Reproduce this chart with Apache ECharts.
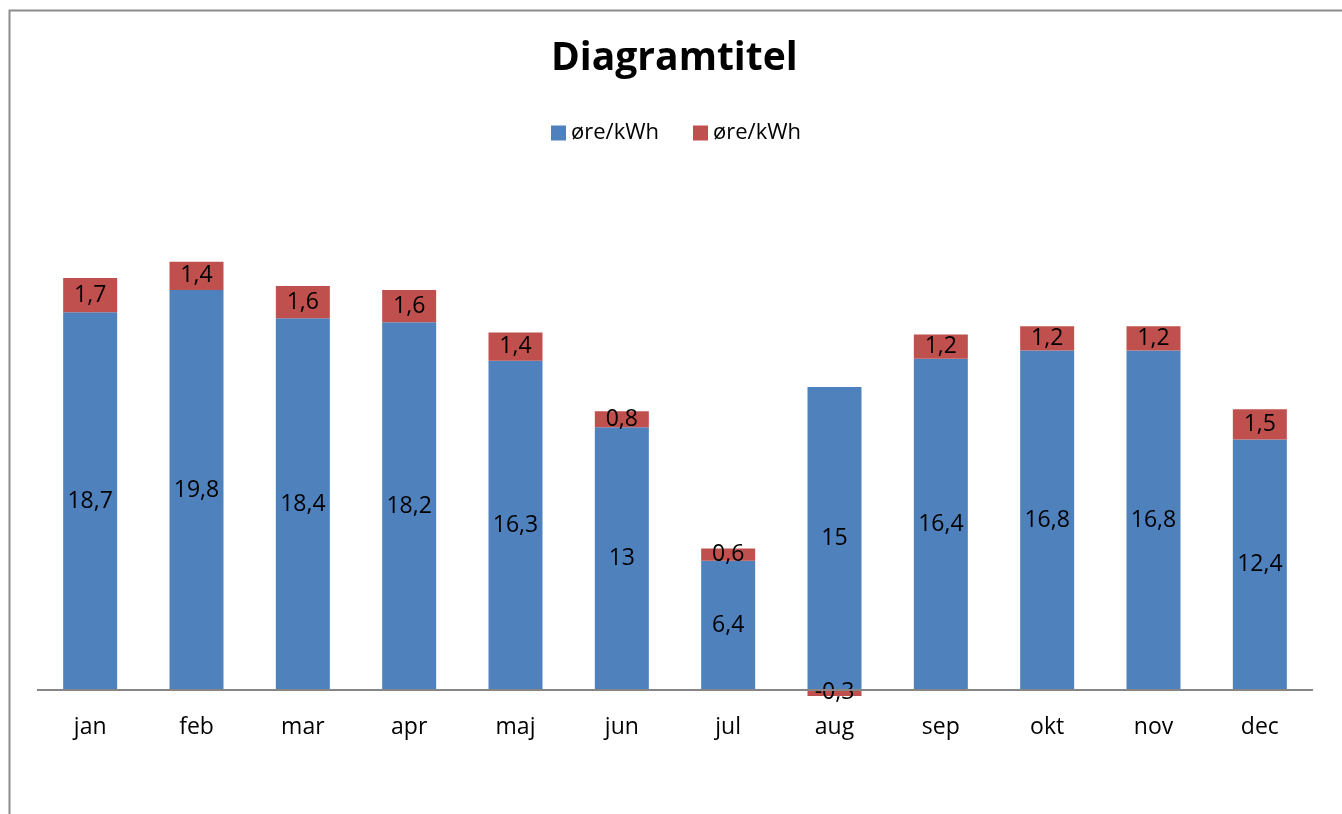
<!DOCTYPE html>
<html>
<head>
<meta charset="utf-8">
<script src="https://cdn.jsdelivr.net/npm/echarts@6/dist/echarts.min.js"></script>
<style>html,body{margin:0;padding:0;background:#fff;}#c{width:1342px;height:814px;}</style>
</head>
<body>
<div id="c"></div>
<script>
const categories = ['jan','feb','mar','apr','maj','jun','jul','aug','sep','okt','nov','dec'];
const seriesNames = ['øre/kWh','øre/kWh'];
const baseValues = [18.7,19.8,18.4,18.2,16.3,13,6.4,15,16.4,16.8,16.8,12.4];
const extraValues = [1.7,1.4,1.6,1.6,1.4,0.8,0.6,-0.3,1.2,1.2,1.2,1.5];

const FONT = '"Open Sans", "Noto Sans", sans-serif';
const fmt = p => String(p.value).replace('.', ',');

const chart = echarts.init(document.getElementById('c'), null, {renderer:'canvas'});
chart.setOption({
  animation: false,
  backgroundColor: '#fff',
  graphic: [{
    type: 'rect', left: 7, top: 8, silent: true,
    shape: {x: 0, y: 0, width: 1400, height: 900},
    style: {fill: 'none', stroke: '#8c8c8c', lineWidth: 2}
  }],
  title: {
    text: 'Diagramtitel', left: 551, top: 39, padding: 0,
    textStyle: {fontFamily: FONT, fontWeight: 'bold', fontSize: 39, color: '#000'}
  },
  legend: {
    top: 122, left: 551, padding: 0, itemWidth: 15, itemHeight: 15, itemGap: 34,
    icon: 'rect',
    textStyle: {fontFamily: FONT, fontSize: 22, color: '#000'},
    data: [{name: 'a'}, {name: 'b'}],
    formatter: n => seriesNames[n === 'a' ? 0 : 1]
  },
  grid: {left: 37, right: 29, top: 185, bottom: 114, outerBoundsMode: 'none', containLabel: false},
  xAxis: {
    type: 'category', data: categories,
    axisLine: {show: false, onZero: false},
    axisTick: {show: false},
    axisLabel: {fontFamily: FONT, fontSize: 23, color: '#000', margin: 16}
  },
  yAxis: {
    type: 'value', min: -0.5, max: 25, show: false,
    splitLine: {show: false}
  },
  series: [
    {
      name: 'a', type: 'bar', stack: 's', data: baseValues, barWidth: 54,
      itemStyle: {color: '#4F81BD'},
      label: {show: true, position: 'inside', formatter: fmt, fontFamily: FONT, fontSize: 23, color: '#000'}
    },
    {
      name: 'b', type: 'bar', stack: 's', data: extraValues, barWidth: 54,
      itemStyle: {color: '#C0504D'},
      label: {show: true, position: 'inside', formatter: fmt, fontFamily: FONT, fontSize: 23, color: '#000'},
      markLine: {
        silent: true, symbol: 'none', label: {show: false},
        lineStyle: {color: '#868686', width: 2, type: 'solid'},
        data: [{yAxis: 0}]
      }
    }
  ]
});
</script>
</body>
</html>
